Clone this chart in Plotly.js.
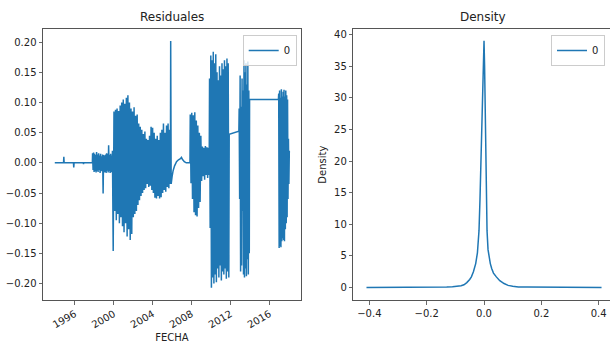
<!DOCTYPE html>
<html><head><meta charset="utf-8">
<script src="https://cdn.plot.ly/plotly-3.0.1.min.js"></script>
<style>html,body{margin:0;padding:0;overflow:hidden;background:#fff;width:610px;height:347px}#chart{width:614px;height:347px}</style>
</head><body><div id="chart"></div>
<script>
// ---- Residuales (decimal years -> values) ----
const flatYears = [1993.95, 1994.85, 1994.88, 1994.91, 1995.87, 1995.90, 1995.93, 1996.88, 1996.90, 1996.92, 1997.81];
const flatVals  = [0, 0, 0.010, 0, 0, -0.0076, 0, 0, -0.002, 0, 0];

const bandASpan = [1997.83, 1999.84];
const bandAVals = [0.016, -0.012, 0.017, -0.015, 0.015, -0.014, 0.013, -0.016, 0.018, -0.013,
                   0.014, -0.015, 0.016, -0.012, 0.012, -0.017, 0.015, -0.014, 0.011, -0.013,
                   0.014, -0.051, 0.013, -0.016, 0.012, -0.015, 0.014, -0.017, 0.016, -0.013,
                   0.015, -0.016, 0.029, -0.014, 0.013, -0.017, 0.015, -0.015, 0.012, -0.016];

const bandBSpan = [1999.87, 2005.82];
const bandBVals = [0.02, -0.146, 0.085, -0.08, 0.088, -0.095, 0.09, -0.085, 0.086, -0.1,
                   0.095, -0.09, 0.1, -0.105, 0.105, -0.115, 0.098, -0.1, 0.108, -0.122,
                   0.112, -0.11, 0.1, -0.128, 0.09, -0.118, 0.085, -0.09, 0.092, -0.085,
                   0.078, -0.08, 0.08, -0.07, 0.065, -0.062, 0.06, -0.055, 0.055, -0.05,
                   0.048, -0.045, 0.052, -0.042, 0.04, -0.035, 0.038, -0.04, 0.045, -0.038,
                   0.06, -0.045, 0.058, -0.05, 0.05, -0.058, 0.04, -0.059, 0.045, -0.055,
                   0.038, -0.059, 0.05, -0.057, 0.055, -0.05, 0.065, -0.045, 0.05, -0.048,
                   0.062, -0.04, 0.065, -0.042, 0.055, -0.035];

const curveYears = [2005.85, 2005.9, 2006.0, 2006.1, 2006.25, 2006.45, 2006.65, 2006.85, 2006.95, 2007.05, 2007.25, 2007.45, 2007.83];
const curveVals  = [0.202, -0.035, -0.022, -0.013, -0.005, 0.002, 0.005, 0.007, 0.009, 0.006, 0.002, 0.0, 0.0];

const bandCSpan = [2007.86, 2009.80];
const bandCVals = [0.08, -0.034, 0.083, -0.06, 0.079, -0.082, 0.084, -0.087, 0.07, -0.089,
                   0.062, -0.075, 0.05, -0.065, 0.045, -0.03, 0.027, -0.022, 0.025, -0.028,
                   0.028, -0.02, 0.026, -0.025, 0.025, -0.02];

const bandDSpan = [2009.84, 2011.82];
const bandDVals = [0.14, -0.108, 0.178, -0.207, 0.17, -0.19, 0.184, -0.2, 0.165, -0.185,
                   0.18, -0.198, 0.15, -0.175, 0.137, -0.19, 0.16, -0.17, 0.145, -0.195,
                   0.165, -0.18, 0.155, -0.185, 0.17, -0.175, 0.16, -0.192, 0.173, -0.18,
                   0.165, -0.19];

const bridgeYears = [2011.86, 2012.85];
const bridgeVals  = [0.0475, 0.0525];

const bandESpan = [2012.88, 2013.92];
const bandEVals = [0.09, -0.06, 0.145, -0.18, 0.093, -0.17, 0.14, -0.08, 0.12, -0.185,
                   0.17, -0.19, 0.15, -0.175, 0.165, -0.188, 0.13, -0.16, 0.168, -0.185,
                   0.12, -0.15];

const plateauYears = [2013.95, 2016.91];
const plateauVals  = [0.105, 0.105];

const bandFSpan = [2016.94, 2018.03];
const bandFVals = [0.115, -0.141, 0.12, -0.138, 0.108, -0.14, 0.122, -0.13, 0.11, -0.125,
                   0.118, -0.128, 0.121, -0.13, 0.11, -0.11, 0.12, -0.1, 0.112, -0.09,
                   0.105, -0.06, 0.04, -0.035, 0.02];

const dateTickYears = [1996, 2000, 2004, 2008, 2012, 2016];
const resTicks = [-0.20, -0.15, -0.10, -0.05, 0.00, 0.05, 0.10, 0.15, 0.20];

// ---- Density ----
const densityX = [-0.41, -0.35, -0.30, -0.25, -0.21, -0.19, -0.17, -0.15, -0.13, -0.11,
                  -0.09, -0.08, -0.07, -0.06, -0.05, -0.044, -0.037, -0.029, -0.023, -0.0175,
                  -0.014, -0.0105, -0.008, -0.0056, -0.003, 0, 0.002, 0.0035, 0.005, 0.007,
                  0.0088, 0.0105, 0.014, 0.018, 0.022, 0.027, 0.033, 0.043, 0.055, 0.07,
                  0.084, 0.1, 0.12, 0.15, 0.18, 0.22, 0.26, 0.3, 0.35, 0.41];
const densityY = [0.03, 0.03, 0.04, 0.05, 0.1, 0.14, 0.1, 0.07, 0.1, 0.15,
                  0.22, 0.3, 0.45, 0.8, 1.3, 1.7, 2.5, 3.8, 5.5, 9.0,
                  14, 19.6, 25, 30, 35, 39, 35, 30, 25, 19.6,
                  14, 9.0, 6.0, 4.6, 3.8, 3.0, 2.3, 1.7, 1.1, 0.65,
                  0.36, 0.22, 0.12, 0.1, 0.08, 0.06, 0.05, 0.04, 0.03, 0.03];
const densityTicksX = [-0.4, -0.2, 0.0, 0.2, 0.4];
const densityTicksY = [0, 5, 10, 15, 20, 25, 30, 35, 40];

// ---- helpers ----
function yearToISO(y) {
  const yr = Math.floor(y);
  const a = Date.UTC(yr, 0, 1), b = Date.UTC(yr + 1, 0, 1);
  return new Date(a + (y - yr) * (b - a)).toISOString().slice(0, 19).replace('T', ' ');
}
function spread(span, vals) {
  const n = vals.length;
  return vals.map((_, i) => span[0] + i * (span[1] - span[0]) / (n - 1));
}
const resYears = [].concat(
  flatYears, spread(bandASpan, bandAVals), spread(bandBSpan, bandBVals), curveYears,
  spread(bandCSpan, bandCVals), spread(bandDSpan, bandDVals), bridgeYears,
  spread(bandESpan, bandEVals), plateauYears, spread(bandFSpan, bandFVals));
const resVals = [].concat(
  flatVals, bandAVals, bandBVals, curveVals, bandCVals, bandDVals, bridgeVals,
  bandEVals, plateauVals, bandFVals);

const W = 614, H = 347;
const blue = '#1f77b4';
const tickFont = {family: 'DejaVu Sans', size: 10, color: '#222'};
const axisCommon = {
  showline: true, mirror: true, linecolor: '#555', linewidth: 1,
  ticks: 'outside', ticklen: 3.5, tickwidth: 0.8, tickcolor: '#444',
  showgrid: false, zeroline: false, tickfont: tickFont, fixedrange: true
};
const yDom = [1 - 300 / H, 1 - 29.3 / H];

const traces = [
  {x: resYears.map(yearToISO), y: resVals, type: 'scatter', mode: 'lines', name: '0',
   line: {color: blue, width: 1.5, simplify: false}, xaxis: 'x', yaxis: 'y', legend: 'legend'},
  {x: densityX, y: densityY, type: 'scatter', mode: 'lines', name: '0',
   line: {color: blue, width: 1.5}, xaxis: 'x2', yaxis: 'y2', legend: 'legend2'}
];

const legendCommon = {
  bgcolor: 'rgba(255,255,255,0.8)', bordercolor: '#ccc', borderwidth: 1,
  font: {family: 'DejaVu Sans', size: 10, color: '#222'}, itemwidth: 30,
  xanchor: 'right', yanchor: 'top', y: 1 - 35 / H, tracegroupgap: 0
};

const layout = {
  width: W, height: H, margin: {l: 0, r: 0, t: 0, b: 0},
  paper_bgcolor: '#fff', plot_bgcolor: '#fff',
  font: {family: 'DejaVu Sans', size: 10, color: '#222'},
  showlegend: true,
  legend: Object.assign({}, legendCommon, {x: 296.7 / W}),
  legend2: Object.assign({}, legendCommon, {x: 605 / W}),
  xaxis: Object.assign({}, axisCommon, {
    domain: [43 / W, 301 / W], type: 'date', anchor: 'y',
    range: [yearToISO(1992.74), yearToISO(2019.23)],
    tickvals: dateTickYears.map(yearToISO), ticktext: dateTickYears.map(String),
    tickangle: -30,
    title: {text: 'FECHA', font: {family: 'DejaVu Sans', size: 10, color: '#222'}}
  }),
  yaxis: Object.assign({}, axisCommon, {
    domain: yDom, anchor: 'x', range: [-0.2274, 0.2214],
    tickvals: resTicks, tickformat: '.2f'
  }),
  xaxis2: Object.assign({}, axisCommon, {
    domain: [353.3 / W, 613.3 / W], anchor: 'y2', range: [-0.456, 0.451],
    tickvals: densityTicksX, tickformat: '.1f'
  }),
  yaxis2: Object.assign({}, axisCommon, {
    domain: yDom, anchor: 'x2', range: [-1.95, 40.8],
    tickvals: densityTicksY,
    title: {text: 'Density', standoff: 5, font: {family: 'DejaVu Sans', size: 10, color: '#222'}}
  }),
  annotations: [
    {text: 'Residuales', xref: 'paper', yref: 'paper', x: 172 / W, y: yDom[1],
     xanchor: 'center', yanchor: 'bottom', yshift: 3, showarrow: false,
     font: {family: 'DejaVu Sans', size: 12, color: '#222'}},
    {text: 'Density', xref: 'paper', yref: 'paper', x: 483.3 / W, y: yDom[1],
     xanchor: 'center', yanchor: 'bottom', yshift: 3, showarrow: false,
     font: {family: 'DejaVu Sans', size: 12, color: '#222'}}
  ]
};

Plotly.newPlot('chart', traces, layout, {displayModeBar: false, staticPlot: true});
</script>
</body></html>
